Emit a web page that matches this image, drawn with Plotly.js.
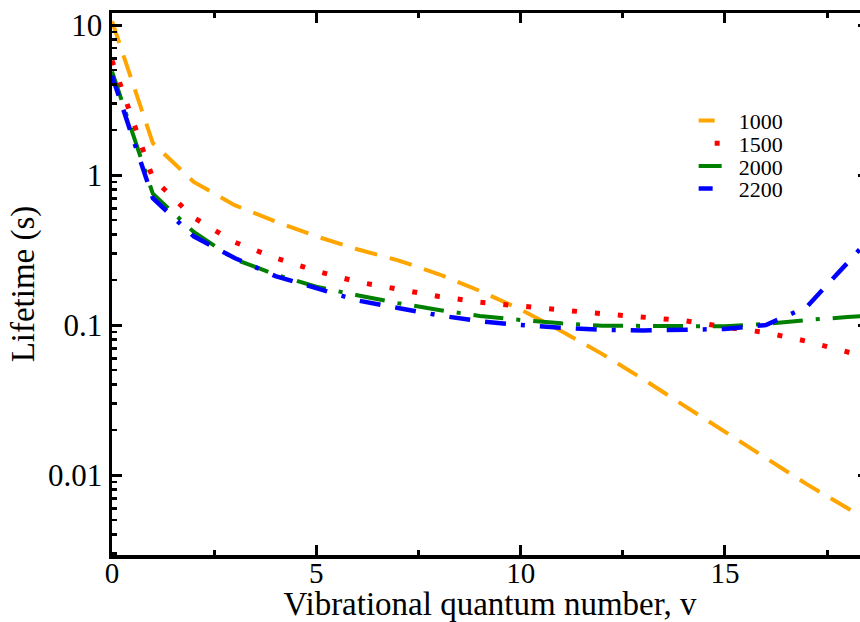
<!DOCTYPE html>
<html>
<head>
<meta charset="utf-8">
<script src="https://cdn.plot.ly/plotly-3.0.1.min.js"></script>
<style>
html,body{margin:0;padding:0;background:#fff;overflow:hidden;width:860px;height:622px;}
#chart{width:868px;height:622px;}
</style>
</head>
<body>
<div id="chart"></div>
<script>
// Vibrational quantum number
var v = [0,1,2,3,4,5,6,7,8,9,10,11,12,13,14,15,16,17,18,19];
// Lifetimes (s) for each series
var life1000 = [10.6,1.63,0.90,0.63,0.49,0.39,0.32,0.27,0.218,0.169,0.127,0.091,0.064,0.0435,0.029,0.0194,0.0129,0.0087,0.0060,0.0041];
var life1500 = [5.8,0.95,0.52,0.357,0.28,0.229,0.194,0.172,0.155,0.142,0.133,0.126,0.119,0.1136,0.107,0.097,0.089,0.078,0.066,0.056];
var life2000 = [4.9,0.75,0.417,0.275,0.217,0.18,0.158,0.14,0.126,0.115,0.108,0.1026,0.099,0.099,0.0977,0.098,0.1016,0.108,0.113,0.118];
var life2200 = [4.6,0.70,0.39,0.28,0.212,0.175,0.146,0.13,0.116,0.106,0.100,0.096,0.093,0.092,0.093,0.094,0.100,0.132,0.26,0.52];
var seriesNames = ['1000','1500','2000','2200'];
var xTickVals = [0,5,10,15];
var xMinorVals = [2.5,7.5,12.5,17.5];
var yTickVals = [0.01,0.1,1,10];
var yTickText = ['0.01','0.1','1','10'];

var FONT = '"Liberation Serif","Times New Roman",Times,serif';

var traces = [
  {x:v, y:life1000, name:seriesNames[0], mode:'lines',
   line:{color:'#FFA500', width:4, dash:'23px,13px'}},
  {x:v, y:life1500, name:seriesNames[1], mode:'lines',
   line:{color:'#FF0000', width:5, dash:'5px,18px'}},
  {x:v, y:life2000, name:seriesNames[2], mode:'lines',
   line:{color:'#008000', width:4, dash:'30px,13px,4px,13px'}},
  {x:v, y:life2200, name:seriesNames[3], mode:'lines',
   line:{color:'#0000FF', width:4.5, dash:'21px,15px,21px,15px,4px,15px'}}
];

// minor tick positions for log axis (2..9 in each decade)
var yMinor = [];
for (var d = -3; d <= 1; d++) {
  for (var k = 2; k <= 9; k++) yMinor.push(k * Math.pow(10, d));
}

var layout = {
  width:868, height:622,
  margin:{l:112, r:0, t:13, b:67, pad:0},
  paper_bgcolor:'#fff', plot_bgcolor:'#fff',
  font:{family:FONT, color:'#000', size:31},
  showlegend:true,
  legend:{x:0.776, y:0.84, xanchor:'left', yanchor:'top',
          font:{family:FONT, size:22, color:'#000'},
          bgcolor:'rgba(0,0,0,0)', borderwidth:0, tracegroupgap:0},
  xaxis:{
    range:[0,18.5], showgrid:false, zeroline:false,
    showline:true, linecolor:'#000', linewidth:3.5, mirror:'ticks',
    ticks:'inside', ticklen:10, tickwidth:3, tickcolor:'#000',
    tickmode:'array', tickvals:xTickVals, ticklabelstandoff:-10,
    tickfont:{family:FONT, size:29, color:'#000'},
    minor:{tickmode:'array', tickvals:xMinorVals, ticks:'inside', ticklen:5, tickwidth:3, tickcolor:'#000'},
    title:{text:'Vibrational quantum number, v', font:{family:FONT, size:33, color:'#000'}, standoff:0}
  },
  yaxis:{
    type:'log', range:[-2.533,1.08], showgrid:false, zeroline:false,
    showline:true, linecolor:'#000', linewidth:3.5, mirror:'ticks',
    ticks:'inside', ticklen:10, tickwidth:3, tickcolor:'#000',
    tickmode:'array', tickvals:yTickVals, ticktext:yTickText,
    tickfont:{family:FONT, size:31, color:'#000'},
    minor:{tickmode:'array', tickvals:yMinor, ticks:'inside', ticklen:5, tickwidth:2.5, tickcolor:'#000'},
    title:{text:'Lifetime (s)', font:{family:FONT, size:33, color:'#000'}, standoff:4}
  }
};

Plotly.newPlot('chart', traces, layout, {displayModeBar:false, staticPlot:true}).then(function(gd){
  // tighten legend rows and move sample lines left, as in the reference
  var items = gd.querySelectorAll('.legend .traces');
  var y0 = null;
  items.forEach(function(g, i){
    var tr = g.getAttribute('transform') || '';
    var m = /translate\(\s*([-\d.]+)[ ,]+([-\d.]+)\s*\)/.exec(tr);
    var tx = m ? parseFloat(m[1]) : 0;
    var ty = m ? parseFloat(m[2]) : 0;
    if (y0 === null) y0 = ty;
    g.setAttribute('transform', 'translate(' + tx + ',' + (y0 + i * 22.7) + ')');
    g.querySelectorAll('.legendlines path').forEach(function(p){
      p.setAttribute('d', 'M-7,0h30');
    });
  });
});
</script>
</body>
</html>
